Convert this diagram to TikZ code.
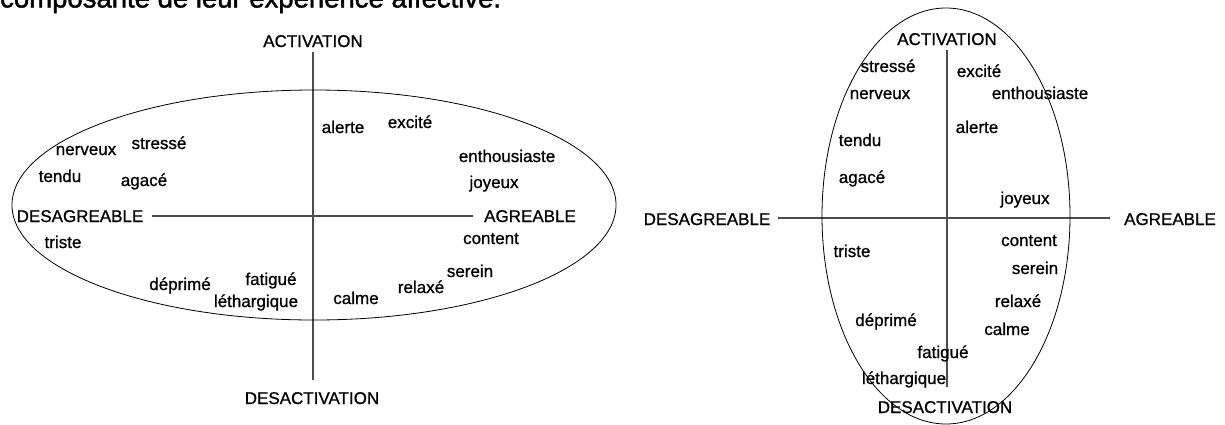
\documentclass[tikz,border=0pt]{standalone}
\usepackage{fontspec}
\setmainfont{Liberation Sans}
\newfontfamily\lblfont[FakeBold=0.9]{Liberation Sans}
\newfontfamily\capfont[FakeBold=1.5]{Liberation Sans}
\begin{document}
\begin{tikzpicture}[x=1pt,y=-1pt,
  lbl/.style={anchor=base,inner sep=0pt,font=\lblfont\fontsize{17}{20}\selectfont},
  axisline/.style={draw=black!70,line width=1.2pt},
  ring/.style={draw=black,line width=0.8pt}]
\useasboundingbox (0,0) rectangle (1225,424);

% caption line running in from above
\node[anchor=base west,inner sep=0pt,font=\capfont\fontsize{27.5}{30}\selectfont] (cap) at (0,7.5) {composante de leur expérience affective.};

% ---------- first circumplex (wide ellipse) ----------
\coordinate (La) at (313,52);
\coordinate (Lb) at (313,380);
\coordinate (Lc) at (152,216);
\coordinate (Ld) at (473,216);
\draw[axisline] (La) -- (Lb);
\draw[axisline] (Lc) -- (Ld);
\draw[ring] (314,205) ellipse [x radius=302, y radius=115];

\node[lbl] (Lact) at (313,47) {ACTIVATION};
\node[lbl] (Ldes) at (312,404) {DESACTIVATION};
\node[lbl] (Ldag) at (80,222) {DESAGREABLE};
\node[lbl] (Lagr) at (530,222) {AGREABLE};

\node[lbl] (Lner) at (86,155) {nerveux};
\node[lbl] (Lstr) at (159,149) {stressé};
\node[lbl] (Lten) at (60,182) {tendu};
\node[lbl] (Laga) at (144,186) {agacé};
\node[lbl] (Ltri) at (63,248) {triste};
\node[lbl] (Ldep) at (180,290) {déprimé};
\node[lbl] (Lfat) at (271,285) {fatigué};
\node[lbl] (Lleth) at (256,307) {léthargique};
\node[lbl] (Lale) at (343,133) {alerte};
\node[lbl] (Lexc) at (410,128) {excité};
\node[lbl] (Lent) at (507,162) {enthousiaste};
\node[lbl] (Ljoy) at (494,188) {joyeux};
\node[lbl] (Lcon) at (491,244) {content};
\node[lbl] (Lser) at (470,277) {serein};
\node[lbl] (Lrel) at (421,293) {relaxé};
\node[lbl] (Lcal) at (356,304) {calme};

% ---------- second circumplex (tall ellipse) ----------
\coordinate (Ra) at (947,50);
\coordinate (Rb) at (947,387);
\coordinate (Rc) at (778,218);
\coordinate (Rd) at (1110,218);
\draw[axisline] (Ra) -- (Rb);
\draw[axisline] (Rc) -- (Rd);
\draw[ring] (946,216) ellipse [x radius=124, y radius=208];

\node[lbl] (Ract) at (947,45) {ACTIVATION};
\node[lbl] (Rdes) at (945,413) {DESACTIVATION};
\node[lbl] (Rdag) at (707,225) {DESAGREABLE};
\node[lbl] (Ragr) at (1170,225) {AGREABLE};

\node[lbl] (Rstr) at (888,72) {stressé};
\node[lbl] (Rner) at (880,99) {nerveux};
\node[lbl] (Rten) at (860,146) {tendu};
\node[lbl] (Raga) at (862,183) {agacé};
\node[lbl] (Rexc) at (979,77) {excité};
\node[lbl] (Rent) at (1040,99) {enthousiaste};
\node[lbl] (Rale) at (977,133) {alerte};
\node[lbl] (Rjoy) at (1025,204) {joyeux};
\node[lbl] (Rcon) at (1029,246) {content};
\node[lbl] (Rser) at (1035,274) {serein};
\node[lbl] (Rrel) at (1018,307) {relaxé};
\node[lbl] (Rcal) at (1007,335) {calme};
\node[lbl] (Rtri) at (852,257) {triste};
\node[lbl] (Rdep) at (886,326) {déprimé};
\node[lbl] (Rfat) at (943,358) {fatigué};
\node[lbl] (Rleth) at (904,384) {léthargique};
\end{tikzpicture}
\end{document}
